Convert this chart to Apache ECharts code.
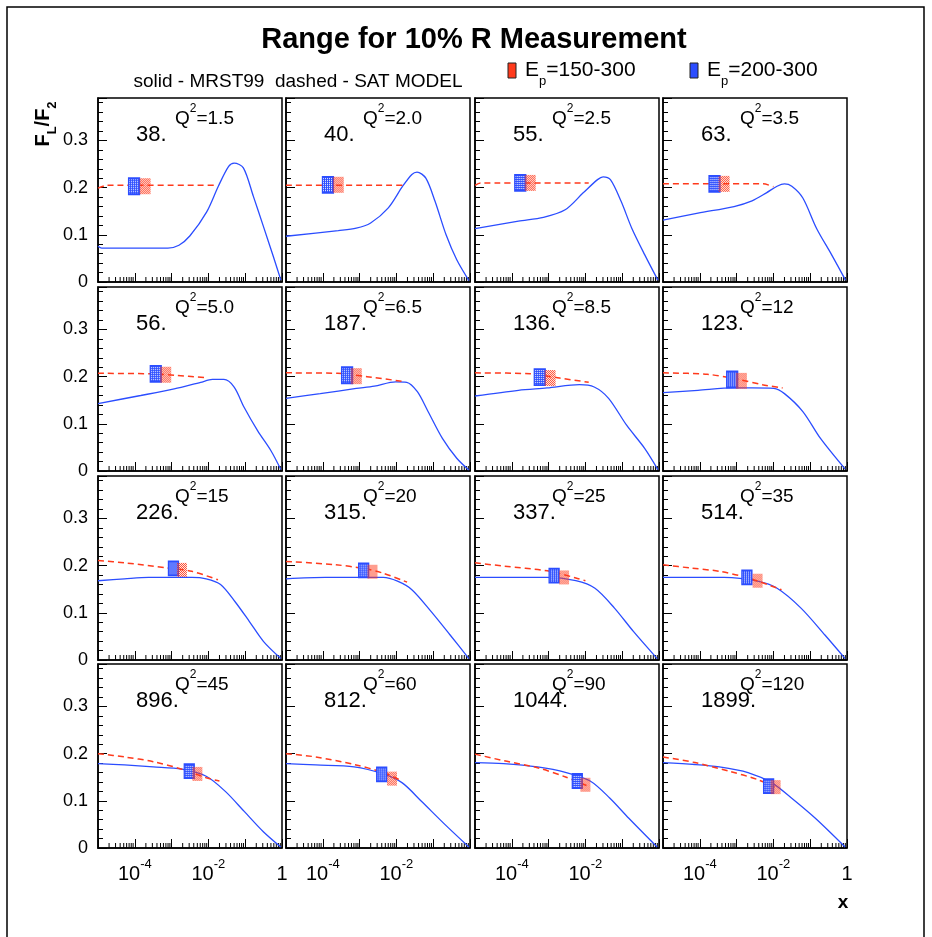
<!DOCTYPE html>
<html>
<head>
<meta charset="utf-8">
<title>Range for 10% R Measurement</title>
<script src="https://cdn.jsdelivr.net/npm/echarts@6/dist/echarts.min.js"></script>
<style>
html, body { margin: 0; padding: 0; background: #fff; }
#chart { width: 932px; height: 937px; }
</style>
</head>
<body>
<div id="chart"></div>
<script>
// panel labels, row by row
var q2Values = ['1.5', '2.0', '2.5', '3.5', '5.0', '6.5', '8.5', '12',
    '15', '20', '25', '35', '45', '60', '90', '120'];
var eventCounts = ['38.', '40.', '55.', '63.', '56.', '187.', '136.', '123.',
    '226.', '315.', '337.', '514.', '896.', '812.', '1044.', '1899.'];

// curves as [log10(x), FL/F2]
// solid - MRST99
var mrstCurves = [
    [[-5, 0.076], [-4.9, 0.072], [-3.1, 0.072], [-2.8, 0.078], [-2.5, 0.098], [-2.05, 0.148], [-1.73, 0.203], [-1.45, 0.245], [-1.3, 0.252], [-1.05, 0.242], [-0.78, 0.182], [-0.51, 0.119], [-0.24, 0.055], [-0.03, 0.004]],
    [[-5, 0.097], [-3.58, 0.109], [-3.09, 0.114], [-2.7, 0.125], [-2.22, 0.157], [-1.83, 0.203], [-1.58, 0.228], [-1.44, 0.233], [-1.2, 0.22], [-0.95, 0.171], [-0.65, 0.10], [-0.36, 0.047], [-0.03, 0.003]],
    [[-5, 0.113], [-3.82, 0.129], [-3.14, 0.137], [-2.55, 0.153], [-2.06, 0.189], [-1.67, 0.217], [-1.52, 0.223], [-1.32, 0.217], [-1.03, 0.171], [-0.74, 0.114], [-0.39, 0.058], [-0.03, 0.004]],
    [[-5, 0.131], [-4.05, 0.146], [-3.07, 0.16], [-2.58, 0.172], [-2.19, 0.189], [-1.9, 0.203], [-1.7, 0.208], [-1.5, 0.203], [-1.2, 0.178], [-0.83, 0.114], [-0.42, 0.058], [-0.04, 0.004]],
    [[-5, 0.143], [-3.84, 0.16], [-2.93, 0.174], [-2.21, 0.188], [-1.89, 0.194], [-1.58, 0.194], [-1.3, 0.178], [-1.03, 0.135], [-0.66, 0.085], [-0.3, 0.043], [-0.03, 0.003]],
    [[-5, 0.154], [-4.07, 0.164], [-3.09, 0.175], [-2.6, 0.18], [-2.02, 0.189], [-1.72, 0.188], [-1.43, 0.168], [-1.14, 0.126], [-0.75, 0.069], [-0.36, 0.027], [-0.03, 0.002]],
    [[-5, 0.159], [-3.82, 0.171], [-3.04, 0.176], [-2.16, 0.183], [-1.76, 0.178], [-1.37, 0.154], [-0.88, 0.097], [-0.39, 0.048], [-0.03, 0.003]],
    [[-5, 0.166], [-4.05, 0.171], [-3.07, 0.176], [-2.58, 0.176], [-1.99, 0.175], [-1.7, 0.164], [-1.2, 0.126], [-0.72, 0.069], [-0.05, 0.004]],
    [[-5, 0.168], [-4.28, 0.172], [-3.63, 0.175], [-2.45, 0.175], [-2.06, 0.172], [-1.67, 0.16], [-1.28, 0.124], [-0.89, 0.082], [-0.5, 0.039], [-0.03, 0.003]],
    [[-5, 0.172], [-3.93, 0.175], [-2.36, 0.175], [-1.97, 0.167], [-1.58, 0.149], [-1.06, 0.103], [-0.54, 0.053], [-0.03, 0.003]],
    [[-5, 0.175], [-3.04, 0.175], [-2.26, 0.168], [-1.74, 0.152], [-1.21, 0.11], [-0.69, 0.06], [-0.05, 0.003]],
    [[-5, 0.175], [-3.34, 0.175], [-2.43, 0.167], [-1.9, 0.152], [-1.25, 0.11], [-0.6, 0.053], [-0.05, 0.003]],
    [[-5, 0.179], [-4.28, 0.176], [-3.5, 0.172], [-2.72, 0.167], [-2.06, 0.152], [-1.54, 0.12], [-1.02, 0.077], [-0.5, 0.034], [-0.03, 0.002]],
    [[-5, 0.179], [-4.19, 0.176], [-3.15, 0.172], [-2.36, 0.157], [-1.84, 0.138], [-1.32, 0.099], [-0.67, 0.049], [-0.03, 0.002]],
    [[-5, 0.181], [-4.22, 0.179], [-3.3, 0.172], [-2.52, 0.16], [-1.87, 0.142], [-1.34, 0.106], [-0.82, 0.063], [-0.05, 0.002]],
    [[-5, 0.181], [-4.13, 0.177], [-3.47, 0.172], [-2.69, 0.16], [-2.04, 0.138], [-1.51, 0.106], [-0.86, 0.063], [-0.05, 0.002]]
];
// dashed - SAT MODEL
var satCurves = [
    [[-5, 0.199], [-4.75, 0.205], [-1.8, 0.205]],
    [[-5, 0.205], [-1.83, 0.205]],
    [[-5, 0.205], [-4.85, 0.21], [-1.91, 0.21]],
    [[-5, 0.208], [-2.28, 0.208], [-2.0, 0.202]],
    [[-5, 0.207], [-3.5, 0.206], [-2.9, 0.203], [-2.08, 0.198]],
    [[-5, 0.208], [-3.6, 0.207], [-2.8, 0.2], [-1.83, 0.19]],
    [[-5, 0.208], [-3.5, 0.206], [-2.7, 0.197], [-1.91, 0.188]],
    [[-5, 0.208], [-3.8, 0.205], [-3.0, 0.195], [-2.3, 0.183], [-1.75, 0.176]],
    [[-5, 0.211], [-4.28, 0.206], [-3.11, 0.195], [-2.45, 0.188], [-1.74, 0.17]],
    [[-5, 0.209], [-3.67, 0.202], [-2.89, 0.194], [-2.36, 0.184], [-1.71, 0.165]],
    [[-5, 0.206], [-4.22, 0.199], [-3.04, 0.189], [-2.26, 0.174], [-2.0, 0.168]],
    [[-5, 0.202], [-4.26, 0.195], [-3.47, 0.188], [-2.69, 0.174], [-1.78, 0.149]],
    [[-5, 0.2], [-4.28, 0.193], [-3.5, 0.183], [-2.72, 0.167], [-2.06, 0.149], [-1.7, 0.142]],
    [[-5, 0.2], [-4.19, 0.193], [-3.15, 0.177], [-2.36, 0.16], [-1.84, 0.142]],
    [[-5, 0.199], [-4.22, 0.185], [-3.3, 0.17], [-2.52, 0.15], [-1.93, 0.131]],
    [[-5, 0.193], [-4.13, 0.181], [-3.21, 0.163], [-2.43, 0.145], [-1.91, 0.127]]
];
// measurement points, [log10(x), FL/F2]
var ep200Points = [[-4.02, 0.203], [-3.86, 0.206], [-3.77, 0.21], [-3.6, 0.208],
    [-3.43, 0.206], [-3.34, 0.203], [-3.24, 0.199], [-3.12, 0.194],
    [-2.95, 0.194], [-2.89, 0.19], [-2.85, 0.179], [-2.72, 0.175],
    [-2.52, 0.163], [-2.4, 0.156], [-2.22, 0.142], [-2.13, 0.131]];
var ep150Points = [[-3.72, 0.203], [-3.58, 0.206], [-3.5, 0.21], [-3.34, 0.208],
    [-3.16, 0.204], [-3.09, 0.201], [-2.96, 0.197], [-2.87, 0.191],
    [-2.72, 0.191], [-2.65, 0.187], [-2.58, 0.175], [-2.43, 0.168],
    [-2.3, 0.157], [-2.12, 0.147], [-2.0, 0.134], [-1.94, 0.129]];

var minorFactors = [2, 3, 4, 5, 6, 7, 8, 9];
var decades = [-5, -4, -3, -2, -1];

var colLeft = [98, 286, 475, 663];
var rowTop = [98, 287, 476, 664];
var panelW = 184;
var panelH = 184;
var FONT = '"Liberation Sans", Arial, Helvetica, sans-serif';
var BLUE = '#2b4dff';
var RED = '#ff3a1c';

function toXY(list) {
    return list.map(function(p) {
        return [Math.pow(10, p[0]), p[1]];
    });
}

// small hatched fill, like the boxes of the original plot.
// symbols are drawn from a 2x2 unit path scaled by size/2, so undo that scale
function makePattern(color, dense, size) {
    var c = document.createElement('canvas');
    c.width = 2;
    c.height = 2;
    var ctx = c.getContext('2d');
    ctx.fillStyle = color;
    if(dense) {
        ctx.fillRect(0, 0, 2, 2);
        ctx.fillStyle = '#ffffff';
        ctx.fillRect(1, 1, 1, 1);
    }
    else {
        ctx.fillRect(0, 0, 1, 1);
        ctx.fillRect(1, 1, 1, 1);
    }
    return {image: c, repeat: 'repeat', scaleX: 2 / size[0], scaleY: 2 / size[1]};
}

function xLabelFormatter(showOne) {
    return function(v) {
        var e = Math.round(Math.log(v) / Math.LN10);
        if(e === -4 || e === -2) {
            return '{b|10}{s|' + e + '}';
        }
        if(e === 0 && showOne) {
            return '{b|1}';
        }
        return '';
    };
}

function yLabelFormatter(v) {
    var r = Math.round(v * 10);
    if(Math.abs(v * 10 - r) > 0.001) {
        return '';
    }
    return r === 0 ? '0' : (r / 10).toFixed(1);
}

function renderMinorTick(params, api) {
    var p = api.coord([api.value(0), 0]);
    return {
        type: 'line',
        shape: {x1: p[0], y1: p[1], x2: p[0], y2: p[1] - 5},
        style: {stroke: '#000', lineWidth: 1}
    };
}

function buildOption() {
    var minorTicks = [];
    for(var d = 0; d < decades.length; d++) {
        for(var f = 0; f < minorFactors.length; f++) {
            minorTicks.push([minorFactors[f] * Math.pow(10, decades[d]), 0]);
        }
    }

    var grids = [];
    var xAxes = [];
    var yAxes = [];
    var series = [];
    var graphics = [];

    graphics.push({
        type: 'rect',
        shape: {x: 7, y: 7, width: 917, height: 945},
        style: {fill: 'none', stroke: '#000', lineWidth: 1.5},
        silent: true
    });
    graphics.push({
        type: 'text',
        style: {text: 'Range for 10% R Measurement', x: 474, y: 40, align: 'center', verticalAlign: 'middle',
            font: 'bold 29px ' + FONT, fill: '#000'}
    });
    graphics.push({
        type: 'text',
        style: {text: 'solid - MRST99  dashed - SAT MODEL', x: 298, y: 82, align: 'center', verticalAlign: 'middle',
            font: '19px ' + FONT, fill: '#000'}
    });
    var legendItems = [{x: 508, fill: RED, label: '150-300'}, {x: 690, fill: BLUE, label: '200-300'}];
    for(var k = 0; k < legendItems.length; k++) {
        var it = legendItems[k];
        graphics.push({
            type: 'rect',
            shape: {x: it.x, y: 63, width: 8, height: 15},
            style: {fill: it.fill, stroke: '#222', lineWidth: 1}
        });
        graphics.push({
            type: 'text',
            style: {
                text: '{e|E}{p|p}{e|=' + it.label + '}', x: it.x + 17, y: 74, verticalAlign: 'middle',
                rich: {
                    e: {fontSize: 21, fontFamily: FONT, verticalAlign: 'top', lineHeight: 28, fill: '#000'},
                    p: {fontSize: 13, fontFamily: FONT, verticalAlign: 'bottom', lineHeight: 28, fill: '#000'}
                }
            }
        });
    }
    graphics.push({
        type: 'text',
        x: 46, y: 124, rotation: Math.PI / 2,
        style: {
            text: '{f|F}{s|L}{f|/F}{s|2}', x: 0, y: 0, align: 'center', verticalAlign: 'middle',
            rich: {
                f: {fontSize: 20, fontWeight: 'bold', fontFamily: FONT, verticalAlign: 'top', lineHeight: 26, fill: '#000'},
                s: {fontSize: 13, fontWeight: 'bold', fontFamily: FONT, verticalAlign: 'bottom', lineHeight: 26, fill: '#000'}
            }
        }
    });
    graphics.push({
        type: 'text',
        style: {text: 'x', x: 843, y: 903, align: 'center', verticalAlign: 'middle', font: 'bold 19px ' + FONT, fill: '#000'}
    });

    var bigSize = [11, 16];
    var smallSize = [10, 14];
    var patterns = {
        blueBig: makePattern(BLUE, true, bigSize),
        blueSmall: makePattern(BLUE, true, smallSize),
        redBig: makePattern(RED, false, bigSize),
        redSmall: makePattern(RED, false, smallSize)
    };

    for(var i = 0; i < 16; i++) {
        var row = Math.floor(i / 4);
        var col = i % 4;
        var pl = colLeft[col];
        var pt = rowTop[row];
        var big = row < 2;
        grids.push({
            left: pl, top: pt, width: panelW, height: panelH,
            show: true, borderColor: '#000', borderWidth: 1.5
        });
        xAxes.push({
            type: 'log', gridIndex: i, min: 0.00001, max: 1, logBase: 10, splitNumber: 5,
            axisLine: {show: true, lineStyle: {color: '#000', width: 1.5}},
            axisTick: {show: true, inside: true, length: 9, lineStyle: {color: '#000', width: 1}},
            splitLine: {show: false},
            axisLabel: {
                show: row === 3, margin: 10,
                formatter: xLabelFormatter(col === 0 || col === 3),
                rich: {
                    b: {fontSize: 20, fontFamily: FONT, color: '#000', verticalAlign: 'bottom', lineHeight: 26},
                    s: {fontSize: 13, fontFamily: FONT, color: '#000', verticalAlign: 'top', lineHeight: 26}
                }
            }
        });
        yAxes.push({
            type: 'value', gridIndex: i, min: 0, max: 0.39, interval: 0.1,
            axisLine: {show: true, lineStyle: {color: '#000', width: 1.5}},
            axisTick: {show: true, inside: true, length: 9, lineStyle: {color: '#000', width: 1}},
            splitLine: {show: false},
            axisLabel: {
                show: col === 0, margin: 10, fontSize: 18, fontFamily: FONT, color: '#000',
                formatter: yLabelFormatter
            }
        });
        yAxes.push({
            type: 'value', gridIndex: i, min: 0, max: 0.39, interval: 0.02, position: 'left',
            axisLine: {show: false},
            axisTick: {show: true, inside: true, length: 5, lineStyle: {color: '#000', width: 1}},
            axisLabel: {show: false},
            splitLine: {show: false}
        });

        series.push({
            type: 'custom', xAxisIndex: i, yAxisIndex: 2 * i, silent: true, z: 1,
            data: minorTicks.slice(),
            renderItem: renderMinorTick
        });
        series.push({
            type: 'line', name: 'MRST99', xAxisIndex: i, yAxisIndex: 2 * i, z: 2,
            data: toXY(mrstCurves[i]), showSymbol: false, smooth: 0.3, silent: true,
            lineStyle: {color: BLUE, width: 1.3}
        });
        series.push({
            type: 'line', name: 'SAT MODEL', xAxisIndex: i, yAxisIndex: 2 * i, z: 3,
            data: toXY(satCurves[i]), showSymbol: false, smooth: 0.3, silent: true,
            lineStyle: {color: RED, width: 1.5, type: [6, 4]}
        });
        series.push({
            type: 'scatter', name: 'Ep=200-300', xAxisIndex: i, yAxisIndex: 2 * i, z: 4,
            data: toXY([ep200Points[i]]), symbol: 'rect', symbolSize: big ? bigSize : smallSize, silent: true,
            itemStyle: {color: big ? patterns.blueBig : patterns.blueSmall, borderColor: BLUE, borderWidth: 1.5, opacity: 1}
        });
        series.push({
            type: 'scatter', name: 'Ep=150-300', xAxisIndex: i, yAxisIndex: 2 * i, z: 5,
            data: toXY([ep150Points[i]]), symbol: 'rect', symbolSize: big ? bigSize : smallSize, silent: true,
            itemStyle: {color: big ? patterns.redBig : patterns.redSmall, opacity: 1}
        });

        graphics.push({
            type: 'text',
            style: {
                text: '{q|Q}{s|2}{q|=' + q2Values[i] + '}', x: pl + 77, y: pt + 5,
                rich: {
                    q: {fontSize: 19, fontFamily: FONT, verticalAlign: 'bottom', lineHeight: 25, fill: '#000'},
                    s: {fontSize: 12, fontFamily: FONT, verticalAlign: 'top', lineHeight: 25, fill: '#000'}
                }
            },
            z: 10
        });
        graphics.push({
            type: 'text',
            style: {text: eventCounts[i], x: pl + 38, y: pt + 37, verticalAlign: 'middle',
                font: '22px ' + FONT, fill: '#000'},
            z: 10
        });
    }

    return {
        backgroundColor: '#fff',
        animation: false,
        grid: grids,
        xAxis: xAxes,
        yAxis: yAxes,
        series: series,
        graphic: graphics
    };
}

var chart = echarts.init(document.getElementById('chart'), null, {renderer: 'canvas'});
chart.setOption(buildOption());
</script>
</body>
</html>
